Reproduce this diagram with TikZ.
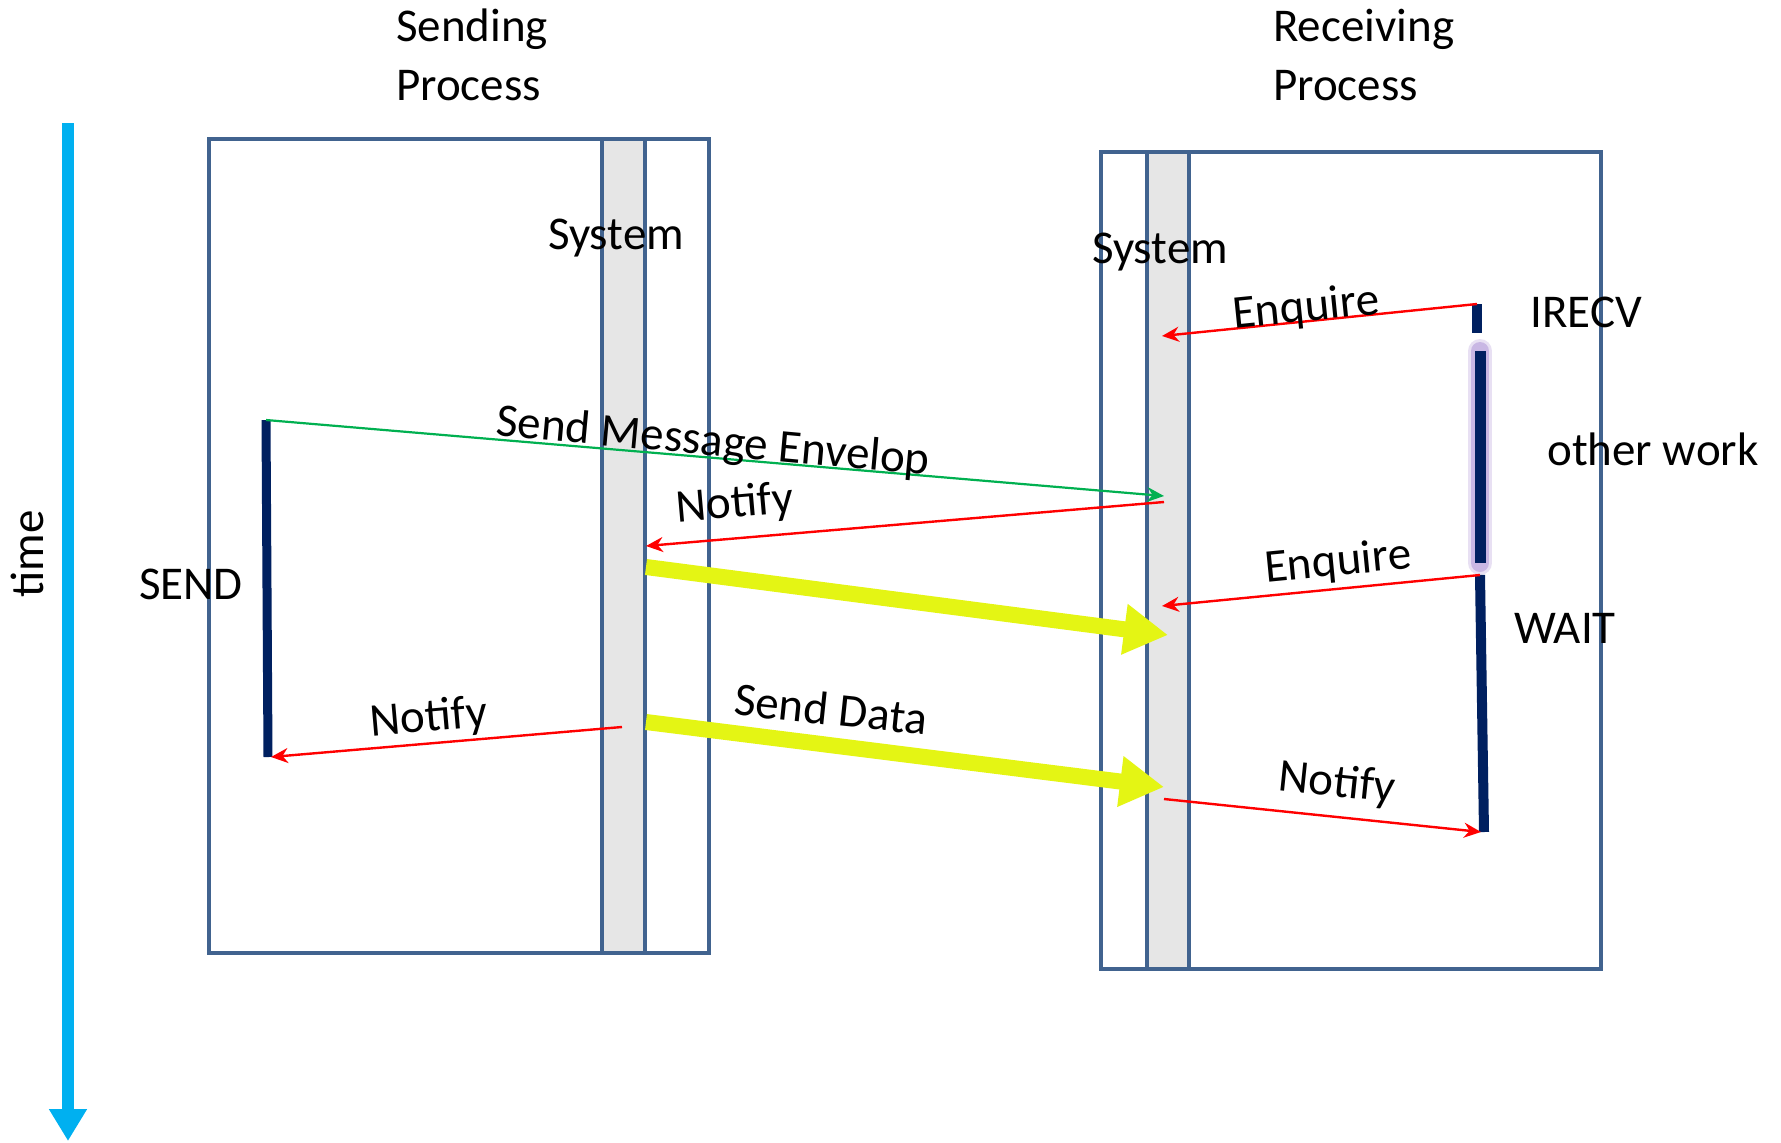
\documentclass[tikz,border=0pt]{standalone}
\usepackage{fontspec}
\setmainfont{Carlito}
\usetikzlibrary{arrows.meta}
\definecolor{boxblue}{RGB}{65,99,143}
\definecolor{sysgray}{RGB}{230,230,230}
\definecolor{timecyan}{RGB}{0,176,240}
\definecolor{navybar}{RGB}{0,32,96}
\definecolor{ylw}{RGB}{228,245,20}
\definecolor{grn}{RGB}{0,176,80}
\definecolor{glowc}{RGB}{165,135,210}
\begin{document}
\begin{tikzpicture}[x=1pt,y=-1pt,
  lbl/.style={font=\fontsize{47}{59}\selectfont, inner sep=0pt},
  procbox/.style={draw=boxblue, line width=4pt, fill=white},
  sysstrip/.style={draw=boxblue, line width=4pt, fill=sysgray},
  bar/.style={draw=navybar, line width=10pt},
  msg/.style={draw=red, line width=2.4pt, -{Stealth[length=17pt,width=15pt]}},
  envmsg/.style={draw=grn, line width=2.2pt, -{Stealth[length=17pt,width=15pt]}},
  bigarrow/.style={draw=ylw, line width=16pt, -{Triangle[width=48pt,length=44pt]}},
  timearrow/.style={draw=timecyan, line width=12pt, -{Triangle[width=36pt,length=32pt]}}
]
\path[use as bounding box] (0,0) rectangle (1781,1143);

% time axis
\coordinate (tTop) at (68,123);
\coordinate (tBot) at (68,1141);
\draw[timearrow] (tTop) -- (tBot);
\node[lbl, rotate=90] (timelbl) at (27,554) {time};

% process boxes and system strips
\draw[procbox] (209,139) rectangle (709,953);
\draw[sysstrip] (602,139) rectangle (645,953);
\draw[procbox] (1101,152) rectangle (1601,969);
\draw[sysstrip] (1147,152) rectangle (1189,969);

% titles
\node[lbl, align=left, anchor=west] (sendtitle) at (396,55) {Sending\\Process};
\node[lbl, align=left, anchor=west] (recvtitle) at (1273,55) {Receiving\\Process};
\node[lbl] (sysL) at (616,238) {System};
\node[lbl] (sysR) at (1160,252) {System};

% activity bars
\coordinate (sendTop) at (266,420);
\coordinate (sendBot) at (268,757);
\coordinate (irecvTop) at (1477,304);
\coordinate (irecvBot) at (1477,333);
\coordinate (owTop) at (1480,351);
\coordinate (owBot) at (1480,563);
\coordinate (waitTop) at (1480,575);
\coordinate (waitBot) at (1484,832);

\draw[bar, line width=9pt] (sendTop) -- (sendBot);
\draw[bar] (irecvTop) -- (irecvBot);
\draw[glowc, line width=24pt, opacity=0.25, line cap=round] (owTop) -- (owBot);
\draw[glowc, line width=18pt, opacity=0.45, line cap=round] (owTop) -- (owBot);
\draw[bar, line width=11pt] (owTop) -- (owBot);
\draw[bar] (waitTop) -- (waitBot);

\node[lbl] (sendlbl) at (191,584) {SEND};
\node[lbl] (irecvlbl) at (1586,312) {IRECV};
\node[lbl] (owlbl) at (1653,449) {other work};
\node[lbl] (waitlbl) at (1565,628) {WAIT};

% connection points on system strips
\coordinate (rEnv) at (1164,496);
\coordinate (rNot1) at (1164,502);
\coordinate (lNot1) at (646,546);
\coordinate (rEnq1) at (1162,336);
\coordinate (rEnq2) at (1162,606);
\coordinate (lY1) at (646,567);
\coordinate (rY1) at (1168,635);
\coordinate (lNot2) at (622,727);
\coordinate (sendTip) at (271,757);
\coordinate (lY2) at (646,722);
\coordinate (rY2) at (1164,787);
\coordinate (rNot2) at (1164,799);
\coordinate (waitTip) at (1481,832);

% messages
\draw[envmsg] (sendTop) -- (rEnv);
\draw[msg] (rNot1) -- (lNot1);
\draw[msg] (irecvTop) -- (rEnq1);
\draw[msg] (waitTop) -- (rEnq2);
\draw[bigarrow] (lY1) -- (rY1);
\draw[bigarrow] (lY2) -- (rY2);
\draw[msg] (lNot2) -- (sendTip);
\draw[msg] (rNot2) -- (waitTip);

% message labels
\node[lbl, rotate=-5.2] (envlbl) at (713,443) {Send Message Envelop};
\node[lbl, rotate=5] (not1lbl) at (735,505) {Notify};
\node[lbl, rotate=5.8] (enq1lbl) at (1306,309) {Enquire};
\node[lbl, rotate=5.6] (enq2lbl) at (1338,563) {Enquire};
\node[lbl, rotate=5] (not2lbl) at (429,719) {Notify};
\node[lbl, rotate=-6] (datalbl) at (831,709) {Send Data};
\node[lbl, rotate=-6] (not3lbl) at (1337,784) {Notify};
\end{tikzpicture}
\end{document}
